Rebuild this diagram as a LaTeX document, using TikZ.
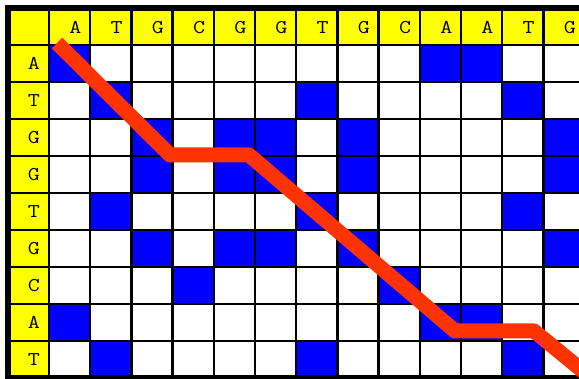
\documentclass[tikz,border=0pt]{standalone}
\usepackage{fontspec}
\newfontfamily\basefont[FakeStretch=1.2]{Latin Modern Mono}
\definecolor{matchblue}{RGB}{0,0,255}
\definecolor{headyellow}{RGB}{255,255,0}
\definecolor{pathred}{RGB}{255,51,0}

\begin{document}
\begin{tikzpicture}[x=1pt,y=-1pt,
    cell/.style={draw=black, line width=2.4},
    headtext/.style={font=\basefont\fontsize{19.5}{19.5}\selectfont, inner sep=0pt}]
  \useasboundingbox (0,0) rectangle (579,379);
  \clip (0,0) rectangle (579,379);

  % header corner
  \draw [cell, fill=headyellow] (10,10) rectangle (49,45);

  % row headers
  \foreach \m [count=\ri] in {A,T,G,G,T,G,C,A,T} {
    \draw [cell, fill=headyellow] (10,{45+37*(\ri-1)}) rectangle ++(39,37);
    \node [headtext] at (34,{63.5+37*(\ri-1)}) {\m};
  }

  % column headers and the match cells
  \foreach \l [count=\ci] in {A,T,G,C,G,G,T,G,C,A,A,T,G} {
    \draw [cell, fill=headyellow] ({49+41.2*(\ci-1)},10) rectangle ++(41.2,35);
    \node [headtext] at ({75.5+41.2*(\ci-1)},27.5) {\l};
    \foreach \m [count=\ri] in {A,T,G,G,T,G,C,A,T} {
      \ifx\l\m \def\cellfill{matchblue}\else\def\cellfill{white}\fi
      \draw [cell, fill=\cellfill] ({49+41.2*(\ci-1)},{45+37*(\ri-1)}) rectangle ++(41.2,37);
    }
  }

  % outer frame
  \draw [line width=5] (7.5,8) rectangle (600,377.5);

  % alignment path
  \coordinate (p0) at (57,43);
  \coordinate (p1) at (170,155);
  \coordinate (p2) at (249,155);
  \coordinate (p3) at (455,331);
  \coordinate (p4) at (534,331);
  \coordinate (p5) at (600,385);
  \draw [pathred, line width=15, line join=round] (p0) -- (p1) -- (p2) -- (p3) -- (p4) -- (p5);
\end{tikzpicture}
\end{document}
